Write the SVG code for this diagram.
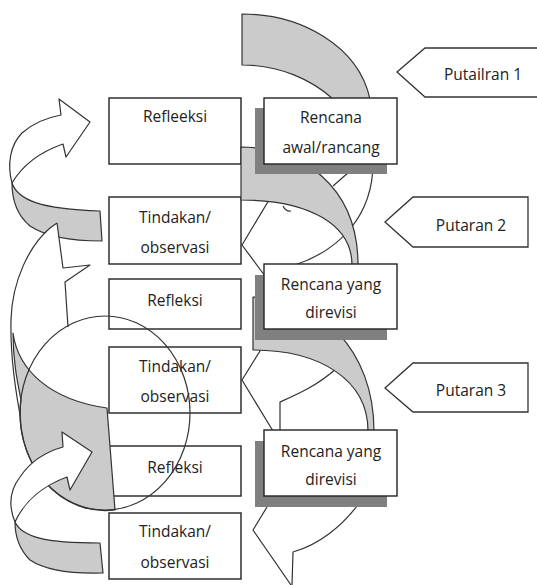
<svg xmlns="http://www.w3.org/2000/svg" width="537" height="585" viewBox="0 0 537 585">
<style>
.box{fill:#fff;stroke:#222;stroke-width:1.4}
.sh{fill:#808080}
.band{fill:#cbcbcb;stroke:#333;stroke-width:1.2;stroke-linejoin:round}
.wh{fill:#fff;stroke:#333;stroke-width:1.2;stroke-linejoin:round}
.ln{fill:none;stroke:#333;stroke-width:1.2;stroke-linejoin:round}
.nf{fill:#fff;stroke:none}
.tag{fill:#fff;stroke:#333;stroke-width:1.3;stroke-linejoin:miter}
text{font-family:"Open Sans","Noto Sans",sans-serif;font-size:15.5px;fill:#222;text-anchor:middle}
</style>
<rect width="537" height="585" fill="#fff"/>

<g id="refleksi-1"><rect class="box" x="109" y="98" width="132" height="66"/><text x="175" y="122">Refleeksi</text></g>
<g id="tindakan-1"><rect class="box" x="109" y="197" width="132" height="67"/><text x="175" y="223">Tindakan/</text><text x="175" y="253">observasi</text></g>
<g id="refleksi-2"><rect class="box" x="109" y="279" width="132" height="50"/><text x="175" y="306">Refleksi</text></g>
<g id="tindakan-2"><rect class="box" x="109" y="347" width="132" height="66"/><text x="175" y="372">Tindakan/</text><text x="175" y="402">observasi</text></g>
<g id="refleksi-3"><rect class="box" x="109" y="446" width="132" height="50"/><text x="175" y="473">Refleksi</text></g>
<g id="tindakan-3"><rect class="box" x="109" y="513" width="132" height="66"/><text x="175" y="537">Tindakan/</text><text x="175" y="568">observasi</text></g>

<g id="connectors">
  <!-- right side spiral -->
  <path class="band" d="M242,14 C300,14 358,45 370,99 L333,99 C312,80 280,65 242,65 Z"/>
  <path class="ln" d="M373,160 C374,215 340,250 295,265"/>
  <path class="ln" d="M349,172 L333,186"/>
  <path class="ln" d="M272,195 L242,245 L268,280"/>
  <path class="ln" d="M283,206 Q286,212 291,211"/>
  <path class="band" d="M241,147 C300,147 358,185 358,265 L352,265 C352,225 310,200 241,200 Z"/>

  <path class="ln" d="M265,343 L242,380 L273,431"/>
  <path class="ln" d="M337,368 C317,386 296,395 280,402 L280,431"/>
  <path class="band" d="M253,297 C320,297 374,350 374,431 L368,431 C368,380 320,350 253,350 Z"/>

  <path class="ln" d="M270,502 L253,530 L291,585"/>
  <path class="ln" d="M360,502 C342,527 318,545 293,552 L292,585"/>

  <!-- left side spiral -->
  <path class="band" d="M12,183 C18,200 40,209 100,211 L102,241 C70,241 45,236 30,226 C18,216 12,200 12,183 Z"/>
  <path class="nf" d="M50,228 L57,223 L63,268 L90,265 L65,282 L68,327 L13,333 C11,300 22,258 50,228 Z"/>
  <path class="ln" d="M57,223 L63,268 L90,265 L65,282 L68,327"/>
  <path class="ln" d="M57,223 L50,228 C30,245 12,280 11,320 C10,360 16,395 22,425"/>
  <path class="wh" d="M61,115 L59,99 L90,122 L66,157 L63,144 C40,152 22,166 12,183 C7,165 10,145 22,133 C33,123 45,118 61,115 Z"/>

  <path class="band" d="M13,333 C18,370 50,400 107,408 L115,510 A85,97 0 0 1 21,400 C17,380 13,360 13,333 Z"/>
  <ellipse class="ln" cx="105" cy="413" rx="85" ry="97"/>
  <path class="wh" d="M63,447 L62,432 L92,452 L70,490 L67,477 C45,485 25,500 15,522 C8,505 10,490 20,477 C30,462 45,452 63,447 Z"/>
  <path class="band" d="M15,522 C22,537 45,543 100,543 L103,573 C70,574 45,570 30,560 C20,550 15,538 15,522 Z"/>
</g>

<g id="rencana-awal"><rect class="sh" x="255" y="108" width="132" height="66"/><rect class="box" x="264" y="98" width="133" height="66"/><text x="331" y="123">Rencana</text><text x="331" y="153">awal/rancang</text></g>
<g id="rencana-revisi-1"><rect class="sh" x="255" y="275" width="132" height="65"/><rect class="box" x="264" y="264" width="133" height="65"/><text x="331" y="290">Rencana yang</text><text x="331" y="318">direvisi</text></g>
<g id="rencana-revisi-2"><rect class="sh" x="255" y="441" width="132" height="66"/><rect class="box" x="264" y="430" width="133" height="66"/><text x="331" y="457">Rencana yang</text><text x="331" y="485">direvisi</text></g>

<g id="putaran-1"><path class="tag" d="M397,72 L425,48 L545,48 L545,97 L425,97 Z"/><text x="483" y="80">Putailran 1</text></g>
<g id="putaran-2"><path class="tag" d="M385,222 L413,197 L528,197 L528,247 L413,247 Z"/><text x="471" y="231">Putaran 2</text></g>
<g id="putaran-3"><path class="tag" d="M385,388 L413,363 L528,363 L528,412 L413,412 Z"/><text x="471" y="396">Putaran 3</text></g>
</svg>
